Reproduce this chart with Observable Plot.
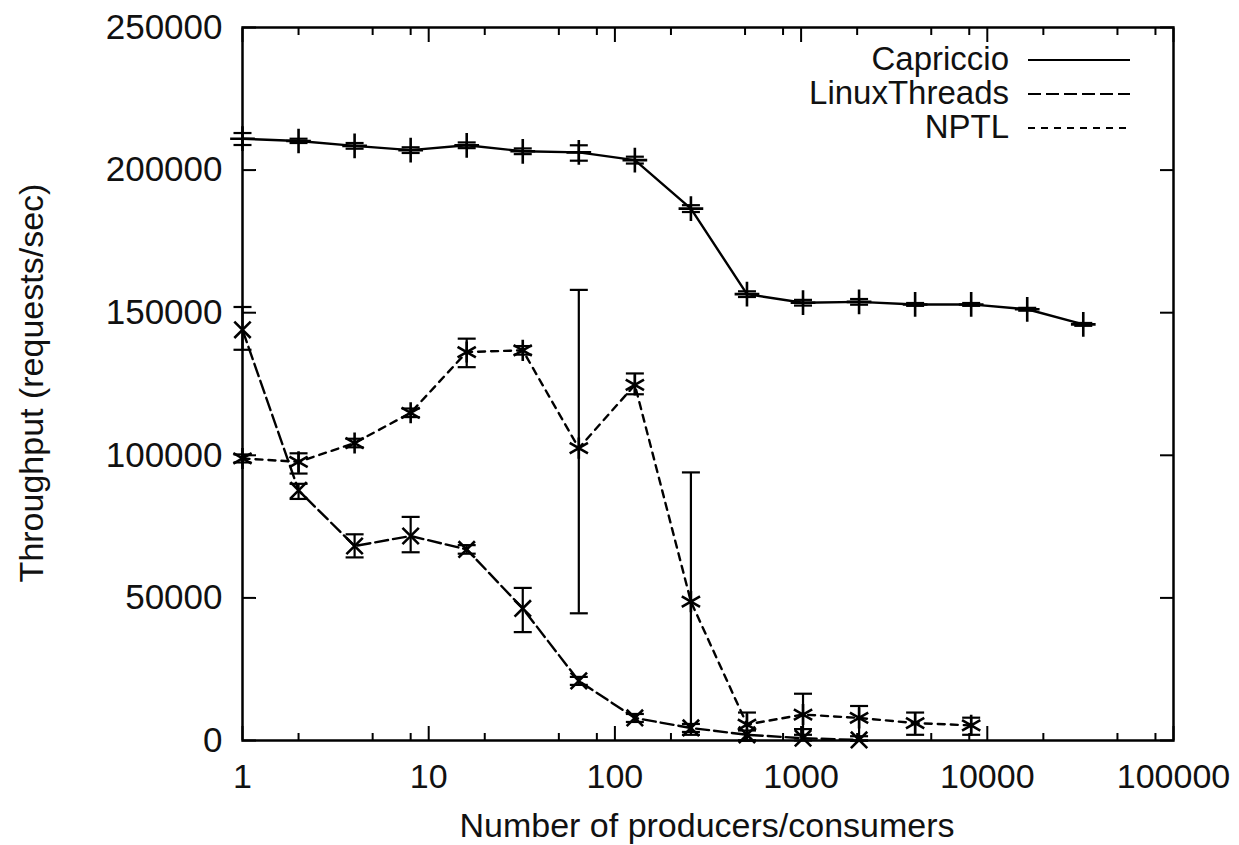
<!DOCTYPE html>
<html><head><meta charset="utf-8">
<script src="https://cdn.jsdelivr.net/npm/d3@7"></script>
<script src="https://cdn.jsdelivr.net/npm/@observablehq/plot@0.6"></script>
<style>body{margin:0;background:#fff}svg{display:block}</style>
</head><body><div id="chart"></div>
<script>
// ---- data ----
const producers = [1,2,4,8,16,32,64,128,256,512,1024,2048,4096,8192,16384,32768];
const capriccio   = [211000,210200,208500,207000,208700,206600,206200,203500,186500,156500,153500,153800,152900,152900,151200,145900];
const capriccioLo = [208800,209500,207500,206000,207700,205600,203300,202300,185300,155500,152500,152800,152400,152400,150700,145400];
const capriccioHi = [213000,211000,209500,208000,209700,207600,208700,204700,187700,157500,154500,154800,153400,153400,151700,146400];
const linux   = [144000,87700,68200,71700,67000,46300,20900,7900,4400,2000,800,200];
const linuxLo = [137000,84700,64200,66000,65500,38000,19500,6500,3000,0,0,0];
const linuxHi = [152000,90000,72300,78400,68500,53500,22300,9300,5800,3500,4000,1500];
const nptl   = [98900,97700,104300,114900,136200,136800,102500,124700,48700,5600,9100,7900,6100,5300];
const nptlLo = [97500,93600,102800,113400,130900,135300,44600,121400,2000,0,2000,0,2000,2000];
const nptlHi = [100300,100700,105800,116400,140900,138300,158000,128700,94000,9800,16400,12100,9800,8000];
const seriesNames = ["Capriccio","LinuxThreads","NPTL"];
const xMajor = [1,10,100,1000,10000,100000];
const xMinor = [2,5,8,20,50,80,200,500,800,2000,5000,8000,20000,50000,80000];
const yTicks = [0,50000,100000,150000,200000,250000];
const xLabel = "Number of producers/consumers";
const yLabel = "Throughput (requests/sec)";

const mk = (vals, lo, hi) => vals.map((v,i) => ({n: producers[i], v, lo: lo[i], hi: hi[i]}));
const capData = mk(capriccio, capriccioLo, capriccioHi);
const linData = mk(linux, linuxLo, linuxHi);
const nptData = mk(nptl, nptlLo, nptlHi);

const cap = {draw(ctx){ ctx.moveTo(-9,0); ctx.lineTo(9,0); }};
const FONT = "'Liberation Sans', Arial, Helvetica, sans-serif";
const dash = {Capriccio: null, LinuxThreads: "13,5", NPTL: "7,6"};

function seriesMarks(data, dashArr, symbol, r) {
  return [
    Plot.line(data, {x: "n", y: "v", stroke: "black", strokeWidth: 2.4, strokeDasharray: dashArr}),
    Plot.ruleX(data, {x: "n", y1: "lo", y2: "hi", stroke: "black", strokeWidth: 2.2}),
    Plot.dot(data, {x: "n", y: "lo", symbol: cap, fill: "none", stroke: "black", strokeWidth: 2.2}),
    Plot.dot(data, {x: "n", y: "hi", symbol: cap, fill: "none", stroke: "black", strokeWidth: 2.2}),
    Plot.dot(data, {x: "n", y: "v", symbol, r, fill: "none", stroke: "black", strokeWidth: 2.6})
  ];
}

const chart = Plot.plot({
  width: 1239, height: 845,
  marginLeft: 242, marginRight: 66, marginTop: 27, marginBottom: 105,
  x: {type: "log", domain: [1, 100000]},
  y: {domain: [0, 250000]},
  style: {background: "white", color: "black", fontFamily: FONT},
  marks: [
    Plot.axisX(xMajor, {anchor: "bottom", tickSize: 0, tickPadding: 23, fontSize: 34, fill: "#111", tickFormat: d => String(d), label: null}),
    Plot.axisX(xMajor, {anchor: "bottom", tickSize: -14, text: null, strokeWidth: 2, label: null}),
    Plot.axisX(xMinor, {anchor: "bottom", tickSize: -7, text: null, strokeWidth: 2, label: null}),
    Plot.axisX(xMajor, {anchor: "top", tickSize: -14, text: null, strokeWidth: 2, label: null}),
    Plot.axisX(xMinor, {anchor: "top", tickSize: -7, text: null, strokeWidth: 2, label: null}),
    Plot.axisY(yTicks, {anchor: "left", tickSize: 0, tickPadding: 20, fontSize: 35, fill: "#111", tickFormat: d3.format("d"), label: null}),
    Plot.axisY(yTicks, {anchor: "left", tickSize: -14, text: null, strokeWidth: 2, label: null}),
    Plot.axisY(yTicks, {anchor: "right", tickSize: -14, text: null, strokeWidth: 2, label: null}),
    ...seriesMarks(capData, dash.Capriccio, "plus", 8),
    ...seriesMarks(linData, dash.LinuxThreads, "times", 7.5),
    ...seriesMarks(nptData, dash.NPTL, "asterisk", 10),
    Plot.frame({stroke: "black", strokeWidth: 2.5})
  ]
});
document.getElementById("chart").appendChild(chart);

// titles and legend
const svg = d3.select(chart);
svg.append("text").attr("x", 707).attr("y", 837).attr("text-anchor", "middle")
  .attr("font-size", 34).attr("font-family", FONT).attr("fill", "#111").text(xLabel);
svg.append("text").attr("transform", "translate(43,383) rotate(-90)").attr("text-anchor", "middle")
  .attr("font-size", 34).attr("font-family", FONT).attr("fill", "#111").text(yLabel);
const lg = svg.append("g");
seriesNames.forEach((name, i) => {
  const yb = 70 + i * 34;
  lg.append("text").attr("x", 1009).attr("y", yb).attr("text-anchor", "end")
    .attr("font-size", 33).attr("font-family", FONT).attr("fill", "#111").text(name);
  lg.append("line").attr("x1", 1028).attr("x2", 1130).attr("y1", yb - 10).attr("y2", yb - 10)
    .attr("stroke", "black").attr("stroke-width", 2)
    .attr("stroke-dasharray", dash[name]);
});
</script>
</body></html>
